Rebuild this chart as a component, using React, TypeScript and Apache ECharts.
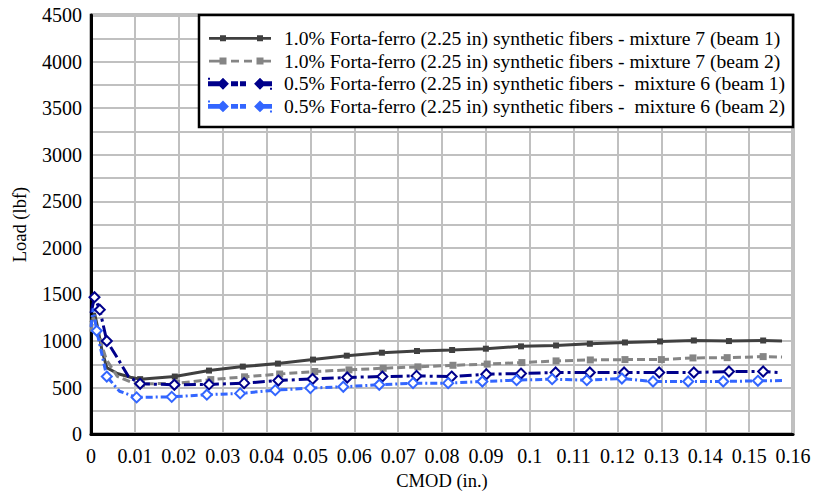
import React, { useEffect, useRef } from "react";
import * as echarts from "echarts";

// ---- Data (CMOD in inches, Load in lbf) ----
const s1Name = "1.0% Forta-ferro (2.25 in) synthetic fibers - mixture 7 (beam 1)";
const s2Name = "1.0% Forta-ferro (2.25 in) synthetic fibers - mixture 7 (beam 2)";
const s3Name = "0.5% Forta-ferro (2.25 in) synthetic fibers -  mixture 6 (beam 1)";
const s4Name = "0.5% Forta-ferro (2.25 in) synthetic fibers -  mixture 6 (beam 2)";

const s1X = [0, 0.0008, 0.0015, 0.0025, 0.0036, 0.006, 0.009, 0.0112, 0.0191, 0.0269, 0.0346, 0.0426, 0.0506, 0.0583, 0.0663, 0.0743, 0.0823, 0.090, 0.098, 0.106, 0.1137, 0.1217, 0.1297, 0.1374, 0.1454, 0.1532, 0.1575];
const s1Y = [1200, 1300, 1150, 900, 714, 650, 610, 590, 618, 682, 725, 757, 800, 842, 874, 892, 903, 917, 942, 952, 970, 984, 995, 1005, 999, 1005, 1000];
const s1Mark = [0, 0, 0, 0, 0, 0, 0, 1, 1, 1, 1, 1, 1, 1, 1, 1, 1, 1, 1, 1, 1, 1, 1, 1, 1, 1, 0];

const s2X = [0, 0.0005, 0.0015, 0.0025, 0.0035, 0.006, 0.009, 0.0115, 0.0195, 0.0273, 0.035, 0.043, 0.051, 0.0588, 0.0666, 0.0745, 0.0825, 0.0903, 0.0982, 0.106, 0.1138, 0.1217, 0.130, 0.1372, 0.145, 0.1532, 0.1575];
const s2Y = [1100, 1250, 1150, 950, 800, 620, 560, 540, 545, 585, 615, 645, 672, 690, 707, 722, 739, 752, 768, 786, 796, 800, 800, 818, 821, 832, 828];
const s2Mark = [0, 0, 0, 0, 0, 0, 0, 1, 1, 1, 1, 1, 1, 1, 1, 1, 1, 1, 1, 1, 1, 1, 1, 1, 1, 1, 0];

const s3X = [0, 0.0008, 0.002, 0.0036, 0.006, 0.0085, 0.0112, 0.019, 0.0269, 0.0349, 0.0427, 0.0505, 0.0584, 0.0664, 0.0742, 0.0822, 0.0901, 0.098, 0.1059, 0.1137, 0.1215, 0.1295, 0.1374, 0.1454, 0.1532, 0.157];
const s3Y = [1300, 1470, 1336, 1000, 820, 620, 540, 530, 533, 547, 575, 592, 608, 618, 625, 618, 643, 650, 661, 661, 661, 661, 661, 672, 672, 660];
const s3Mark = [0, 1, 1, 1, 0, 0, 1, 1, 1, 1, 1, 1, 1, 1, 1, 1, 1, 1, 1, 1, 1, 1, 1, 1, 1, 0];

const s4X = [0, 0.0005, 0.0013, 0.0036, 0.0065, 0.0104, 0.0184, 0.0264, 0.034, 0.042, 0.050, 0.0575, 0.0657, 0.0734, 0.0814, 0.0892, 0.097, 0.1051, 0.113, 0.121, 0.1281, 0.1361, 0.1441, 0.152, 0.1575];
const s4Y = [1150, 1350, 1109, 618, 460, 394, 400, 423, 437, 472, 494, 508, 530, 547, 547, 565, 579, 590, 579, 597, 565, 565, 565, 572, 575];
const s4Mark = [0, 0, 1, 1, 0, 1, 1, 1, 1, 1, 1, 1, 1, 1, 1, 1, 1, 1, 1, 1, 1, 1, 1, 1, 0];

const xTicks = { min: 0, max: 0.16, interval: 0.01 };
const yTicks = { min: 0, max: 4500, interval: 500 };

const FONT = "Liberation Serif";

const corners = "M0,0h0.01v0.01h-0.01Z M62,10h-0.01v-0.01h0.01Z ";
const sq = (c: number, h: number) => `M${c - h},${5 - h}h${2 * h}v${2 * h}h${-2 * h}Z `;
const dia = (c: number) =>
  `M${c},0.5L${c + 4.5},5L${c},9.5L${c - 4.5},5Z M${c},3.9L${c - 1.1},5L${c},6.1L${c + 1.1},5Z `;
const bar = (a: number, b: number) => `M${a},3.6H${b}V6.4H${a}Z `;

const icon1 = "path://" + corners + bar(0, 62) + sq(14, 3) + sq(51, 3);
const icon2 = "path://" + corners + bar(0, 12) + bar(22, 30) + bar(35, 43) + bar(52, 62) + sq(14, 3.5) + sq(51, 3.5);
const icon3 = "path://" + corners + bar(0, 10) + bar(23, 28) + bar(32, 36) + bar(55, 62) + dia(14) + dia(51);

function build(xs: number[], ys: number[], mk: number[]) {
  return xs.map((x, i) => (mk[i] ? { value: [x, ys[i]] } : { value: [x, ys[i]], symbol: "none" }));
}

export default function App() {
  const ref = useRef<HTMLDivElement>(null);
  useEffect(() => {
    if (!ref.current) return;
    const chart = echarts.init(ref.current, undefined, { renderer: "svg" });
    const fmtX = (v: number) => String(+v.toFixed(2));
    const fmtY = (v: number) => String(Math.round(v));
    chart.setOption({
      animation: false,
      backgroundColor: "#fff",
      grid: {
        left: 91,
        right: 30,
        top: 15,
        bottom: 58,
        show: true,
        borderColor: "#000",
        borderWidth: 2.5,
      },
      xAxis: {
        type: "value",
        min: xTicks.min,
        max: xTicks.max,
        interval: xTicks.interval,
        name: "CMOD (in.)",
        nameLocation: "middle",
        nameGap: 35,
        nameTextStyle: { fontFamily: FONT, fontSize: 18.5, color: "#000" },
        axisLine: { show: true, onZero: false, lineStyle: { color: "#000", width: 3 } },
        axisTick: { show: false },
        axisLabel: { fontFamily: FONT, fontSize: 20, color: "#000", margin: 12, formatter: fmtX },
        splitLine: { show: true, lineStyle: { color: "#c0c0c0", width: 2 } },
      },
      yAxis: {
        type: "value",
        min: yTicks.min,
        max: yTicks.max,
        interval: yTicks.interval,
        name: "Load (lbf)",
        nameLocation: "middle",
        nameGap: 62,
        nameTextStyle: { fontFamily: FONT, fontSize: 18.5, color: "#000" },
        axisLine: { show: true, lineStyle: { color: "#000", width: 3 } },
        axisTick: { show: false },
        axisLabel: { fontFamily: FONT, fontSize: 20, color: "#000", margin: 9, formatter: fmtY },
        splitLine: { show: true, lineStyle: { color: "#c0c0c0", width: 2 } },
        minorTick: { show: false, splitNumber: 2 },
        minorSplitLine: { show: true, lineStyle: { color: "#c0c0c0", width: 2 } },
      },
      graphic: [
        {
          type: "rect",
          z: 3,
          shape: { x: 199, y: 15, width: 594, height: 112 },
          style: { fill: "#fff", stroke: "#000", lineWidth: 2.5 },
        },
      ],
      legend: {
        orient: "vertical",
        left: 208,
        top: 27,
        padding: 0,
        itemWidth: 62,
        itemHeight: 10,
        itemGap: 0,
        z: 5,
        textStyle: { fontFamily: FONT, fontSize: 19.6, color: "#000", lineHeight: 22.7, padding: [0, 0, 0, 8] },
        data: [
          { name: s1Name, icon: icon1, itemStyle: { color: "#404040" } },
          { name: s2Name, icon: icon2, itemStyle: { color: "#858585" } },
          { name: s3Name, icon: icon3, itemStyle: { color: "#00008b" } },
          { name: s4Name, icon: icon3, itemStyle: { color: "#3366ff" } },
        ],
      },
      series: [
        {
          name: s1Name,
          type: "line",
          data: build(s1X, s1Y, s1Mark),
          symbol: "rect",
          symbolSize: 6,
          itemStyle: { color: "#404040" },
          lineStyle: { color: "#404040", width: 3 },
        },
        {
          name: s2Name,
          type: "line",
          data: build(s2X, s2Y, s2Mark),
          symbol: "rect",
          symbolSize: 7,
          itemStyle: { color: "#858585" },
          lineStyle: { color: "#858585", width: 3, type: [8, 4] },
        },
        {
          name: s3Name,
          type: "line",
          data: build(s3X, s3Y, s3Mark),
          symbol: "emptyDiamond",
          symbolSize: 10,
          itemStyle: { color: "#00008b", borderColor: "#00008b", borderWidth: 3.5 },
          lineStyle: { color: "#00008b", width: 3, type: [12, 4, 3, 4] },
        },
        {
          name: s4Name,
          type: "line",
          data: build(s4X, s4Y, s4Mark),
          symbol: "emptyDiamond",
          symbolSize: 10,
          itemStyle: { color: "#3366ff", borderColor: "#3366ff", borderWidth: 3.5 },
          lineStyle: { color: "#3366ff", width: 3, type: [7, 3, 2, 3] },
        },
      ],
    });
    return () => chart.dispose();
  }, []);
  return (
    <div
      ref={ref}
      style={{ position: "absolute", left: 0, top: 0, width: 823, height: 495 }}
    />
  );
}
